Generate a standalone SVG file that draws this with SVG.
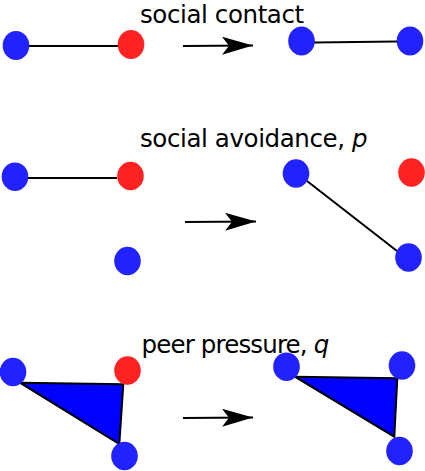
<svg xmlns="http://www.w3.org/2000/svg" width="425" height="471" viewBox="0 0 425 471">
<style>
.b{fill:#2222ff}
.r{fill:#ff2222}
.e{stroke:#000;stroke-width:2;fill:none}
.t{fill:#0000ff;stroke:#000;stroke-width:2;stroke-linejoin:miter}
.lbl{font-family:"DejaVu Sans",sans-serif;font-size:24.5px;letter-spacing:-0.4px;fill:#000}
.ar{stroke:#000;stroke-width:2;fill:none}
</style>
<defs>
<marker id="ah" markerUnits="userSpaceOnUse" markerWidth="34" markerHeight="22" refX="31" refY="9" orient="auto" viewBox="0 0 34 22">
<path d="M31,9 L0,0 L7,9 L0,18 Z" fill="#000"/>
</marker>
</defs>
<g id="labels">
<text class="lbl" x="140" y="23">social contact</text>
<text class="lbl" x="140" y="147">social avoidance, <tspan font-style="italic">p</tspan></text>
<text class="lbl" x="141.5" y="353" style="letter-spacing:-0.85px">peer pressure, <tspan font-style="italic">q</tspan></text>
</g>
<g id="connectors">
<line class="e" x1="29" y1="46" x2="118" y2="46"/>
<line class="e" x1="314" y1="42.5" x2="397" y2="41.5"/>
<line class="e" x1="28" y1="178" x2="117" y2="178"/>
<line class="e" x1="307" y1="181" x2="397" y2="251"/>
<line class="ar" x1="183" y1="46" x2="253" y2="45.5" marker-end="url(#ah)"/>
<line class="ar" x1="185" y1="222" x2="256" y2="221.5" marker-end="url(#ah)"/>
<line class="ar" x1="183" y1="418" x2="253" y2="417.5" marker-end="url(#ah)"/>
</g>
<g id="simplex1"><polygon class="t" points="20,382.7 123.3,384.3 119.3,444"/></g>
<g id="simplex2"><polygon class="t" points="295,376.7 397.3,378.3 394.3,436.7"/></g>
<g id="n1a"><ellipse class="b" cx="16" cy="45.5" rx="13.3" ry="14.5"/></g>
<g id="n1b"><ellipse class="r" cx="131" cy="44.5" rx="13.3" ry="14.5"/></g>
<g id="n1c"><ellipse class="b" cx="301.5" cy="41" rx="13.3" ry="14.5"/></g>
<g id="n1d"><ellipse class="b" cx="410" cy="41" rx="13.3" ry="14.5"/></g>
<g id="n2a"><ellipse class="b" cx="15" cy="176.7" rx="13.3" ry="14.3"/></g>
<g id="n2b"><ellipse class="r" cx="130.5" cy="176" rx="13.3" ry="14.3"/></g>
<g id="n2c"><ellipse class="b" cx="127.5" cy="261" rx="13.3" ry="14.3"/></g>
<g id="n2d"><ellipse class="b" cx="296" cy="173.5" rx="13.3" ry="14.3"/></g>
<g id="n2e"><ellipse class="r" cx="411.5" cy="172.5" rx="13.3" ry="14.3"/></g>
<g id="n2f"><ellipse class="b" cx="408.5" cy="257.5" rx="13.3" ry="14.3"/></g>
<g id="n3a"><ellipse class="b" cx="13" cy="372" rx="13.3" ry="14.3"/></g>
<g id="n3b"><ellipse class="r" cx="127.5" cy="370.5" rx="13.3" ry="14.3"/></g>
<g id="n3c"><ellipse class="b" cx="124.5" cy="456" rx="13.3" ry="14.3"/></g>
<g id="n3d"><ellipse class="b" cx="286.5" cy="366.7" rx="13.3" ry="14.3"/></g>
<g id="n3e"><ellipse class="b" cx="402" cy="365.5" rx="13.3" ry="14.3"/></g>
<g id="n3f"><ellipse class="b" cx="399.5" cy="451" rx="13.3" ry="14.3"/></g>
</svg>
